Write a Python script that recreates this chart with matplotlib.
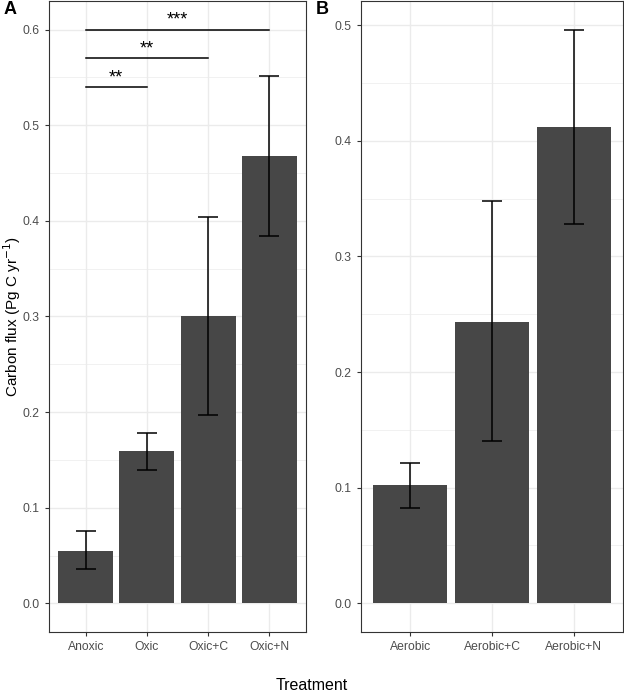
import matplotlib
matplotlib.use('Agg')
from matplotlib import pyplot as plt
from matplotlib.ticker import MultipleLocator

plt.rcParams['font.family'] = ['Liberation Sans', 'DejaVu Sans']

# panel A data
cats_a = ['Anoxic', 'Oxic', 'Oxic+C', 'Oxic+N']
flux_a = [0.055, 0.159, 0.300, 0.468]
lo_a = [0.036, 0.139, 0.197, 0.384]
hi_a = [0.076, 0.178, 0.404, 0.552]

# panel B data
cats_b = ['Aerobic', 'Aerobic+C', 'Aerobic+N']
flux_b = [0.102, 0.243, 0.412]
lo_b = [0.082, 0.140, 0.328]
hi_b = [0.121, 0.348, 0.496]

# significance brackets (from Anoxic to target index)
sig_to = [1, 2, 3]
sig_y = [0.54, 0.57, 0.60]
sig_lab = ['**', '**', '***']

bar_col = '#474747'
grid_col = '#EBEBEB'
text_col = '#4D4D4D'


def draw_panel(ax, cats, vals, lo, hi, ymax):
    x = list(range(len(cats)))
    ax.bar(x, vals, width=0.9, color=bar_col, zorder=2)
    yerr = [[v - l for v, l in zip(vals, lo)], [h - v for v, h in zip(vals, hi)]]
    ax.errorbar(x, vals, yerr=yerr, fmt='none', ecolor='black', elinewidth=1.1,
                capsize=7, capthick=1.1, zorder=3)
    ax.set_xlim(-0.6, len(cats) - 0.4)
    pad = ymax * 0.05
    ax.set_ylim(-pad, ymax + pad)
    ax.set_xticks(x)
    ax.set_xticklabels(cats)
    ax.yaxis.set_major_locator(MultipleLocator(0.1))
    ax.yaxis.set_minor_locator(MultipleLocator(0.05))
    ax.yaxis.set_major_formatter(matplotlib.ticker.FormatStrFormatter('%.1f'))
    ax.grid(True, which='major', color=grid_col, lw=1.0, zorder=0)
    ax.grid(True, which='minor', axis='y', color=grid_col, lw=0.5, zorder=0)
    ax.set_axisbelow(True)
    ax.tick_params(axis='both', which='major', labelsize=8.7, labelcolor=text_col,
                   color='#333333', length=3, width=0.8)
    ax.tick_params(axis='y', which='minor', length=0)
    for s in ax.spines.values():
        s.set_color('#333333')
        s.set_linewidth(0.8)


fig = plt.figure(figsize=(6.24, 6.94), dpi=100)
ax1 = fig.add_axes([49 / 624, 62 / 694, 257 / 624, 631 / 694])
ax2 = fig.add_axes([361 / 624, 62 / 694, 262 / 624, 631 / 694])

draw_panel(ax1, cats_a, flux_a, lo_a, hi_a, 0.60)
draw_panel(ax2, cats_b, flux_b, lo_b, hi_b, 0.496)

for t, y, lab in zip(sig_to, sig_y, sig_lab):
    ax1.plot([0, t], [y, y], color='black', lw=1.1, zorder=4)
    ax1.text(t / 2, y + 0.001, lab, ha='center', va='bottom', fontsize=13)

fig.text(12 / 624, (62 + 631 / 2) / 694, 'Carbon flux (Pg C yr$^{-1}$)', fontsize=11,
         rotation=90, ha='center', va='center')
fig.text(0.5, 1 - 686 / 694, 'Treatment', ha='center', va='center', fontsize=11.5)
fig.text(4 / 624, 1 - 10 / 694, 'A', fontsize=13, fontweight='bold', va='center', ha='left')
fig.text(316 / 624, 1 - 10 / 694, 'B', fontsize=13, fontweight='bold', va='center', ha='left')

fig.savefig('out.png', dpi=100)
